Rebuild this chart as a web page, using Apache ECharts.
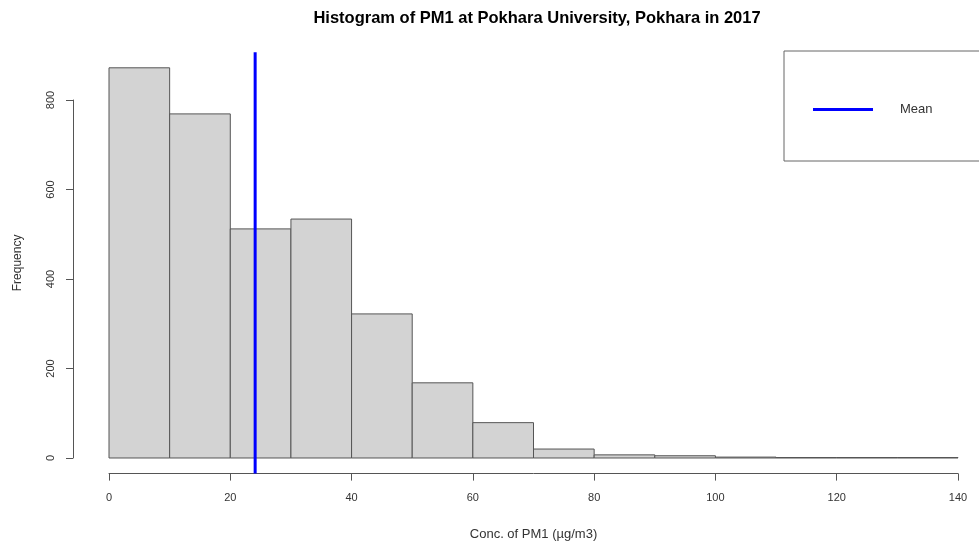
<!DOCTYPE html>
<html>
<head>
<meta charset="utf-8">
<script src="https://cdn.jsdelivr.net/npm/echarts@6/dist/echarts.min.js"></script>
<style>html,body{margin:0;padding:0;background:#fff}#c{width:979px;height:542px}</style>
</head>
<body>
<div id="c"></div>
<script>
// ---- data ----
const binStarts = [0, 10, 20, 30, 40, 50, 60, 70, 80, 90, 100, 110, 120, 130];
const binWidth = 10;
const counts = [872, 769, 512, 534, 322, 168, 79, 20, 7, 5, 2, 1, 1, 1];
const meanValue = 24.1;
const xTicks = [0, 20, 40, 60, 80, 100, 120, 140];
const yTicks = [0, 200, 400, 600, 800];
const titleText = 'Histogram of PM1 at Pokhara University, Pokhara in 2017';
const xName = 'Conc. of PM1 (µg/m3)';
const yName = 'Frequency';

// R-style plot region: 4% extension of the data range
const maxCount = Math.max(...counts);
const yLo = -0.04 * maxCount;
const yHi = 1.04 * maxCount;

const histData = binStarts.map((s, i) => [s, s + binWidth, counts[i]]);

const font = 'Liberation Sans, Arial, sans-serif';
const chart = echarts.init(document.getElementById('c'), null, {renderer: 'canvas'});

chart.setOption({
  animation: false,
  backgroundColor: '#fff',
  title: {
    text: titleText,
    left: 532, top: 5, textAlign: 'center',
    textStyle: {fontFamily: font, fontSize: 16.5, fontWeight: 'bold', color: '#000'}
  },
  legend: {
    data: [{name: 'Mean', icon: 'rect'}],
    left: 784, top: 51,
    orient: 'vertical',
    itemWidth: 60, itemHeight: 3,
    padding: [52, 70, 45, 29],
    borderColor: '#666', borderWidth: 1, borderRadius: 0,
    textStyle: {fontFamily: font, fontSize: 13, color: '#333', padding: [0, 0, 0, 22]}
  },
  grid: [
    {left: 109, right: 21, top: 52.2, bottom: 68.4, outerBoundsMode: 'none', containLabel: false},
    {left: 109, right: 21, top: 100, bottom: 84, outerBoundsMode: 'none', containLabel: false}
  ],
  xAxis: [
    {
      gridIndex: 0, type: 'value', min: 0, max: 140, interval: 20,
      axisLine: {show: true, onZero: false, lineStyle: {color: '#555', width: 1}},
      axisTick: {show: true, length: 7, lineStyle: {color: '#555'}},
      axisLabel: {margin: 19, fontFamily: font, fontSize: 11, color: '#333',
        customValues: xTicks},
      splitLine: {show: false},
      name: xName, nameLocation: 'middle', nameGap: 54,
      nameTextStyle: {fontFamily: font, fontSize: 13, color: '#333'}
    },
    {gridIndex: 1, type: 'value', min: 0, max: 140, show: false}
  ],
  yAxis: [
    {
      gridIndex: 0, type: 'value', min: yLo, max: yHi, offset: 36,
      axisLine: {show: false, onZero: false}, axisTick: {show: false}, axisLabel: {show: false},
      splitLine: {show: false},
      name: yName, nameLocation: 'middle', nameGap: 49, nameRotate: 90,
      nameTextStyle: {fontFamily: font, fontSize: 12, color: '#333'}
    },
    {
      gridIndex: 1, type: 'value', min: 0, max: 800, interval: 200, offset: 36,
      axisLine: {show: true, onZero: false, lineStyle: {color: '#555', width: 1}},
      axisTick: {show: true, length: 7, lineStyle: {color: '#555'}},
      axisLabel: {rotate: 90, margin: 17, fontFamily: font, fontSize: 11, color: '#333',
        customValues: yTicks},
      splitLine: {show: false}
    }
  ],
  series: [
    {
      type: 'custom',
      xAxisIndex: 0, yAxisIndex: 0,
      data: histData,
      encode: {x: [0, 1], y: 2},
      renderItem: function (params, api) {
        const p0 = api.coord([api.value(0), api.value(2)]);
        const p1 = api.coord([api.value(1), 0]);
        return {
          type: 'rect',
          shape: {x: p0[0], y: p0[1], width: p1[0] - p0[0], height: p1[1] - p0[1]},
          style: {fill: '#d3d3d3', stroke: '#555', lineWidth: 1}
        };
      }
    },
    {
      name: 'Mean',
      type: 'line',
      xAxisIndex: 0, yAxisIndex: 0,
      data: [[meanValue, yLo], [meanValue, yHi]],
      symbol: 'none',
      lineStyle: {color: '#0000ff', width: 3},
      itemStyle: {color: '#0000ff'},
      z: 5
    }
  ]
});
</script>
</body>
</html>
